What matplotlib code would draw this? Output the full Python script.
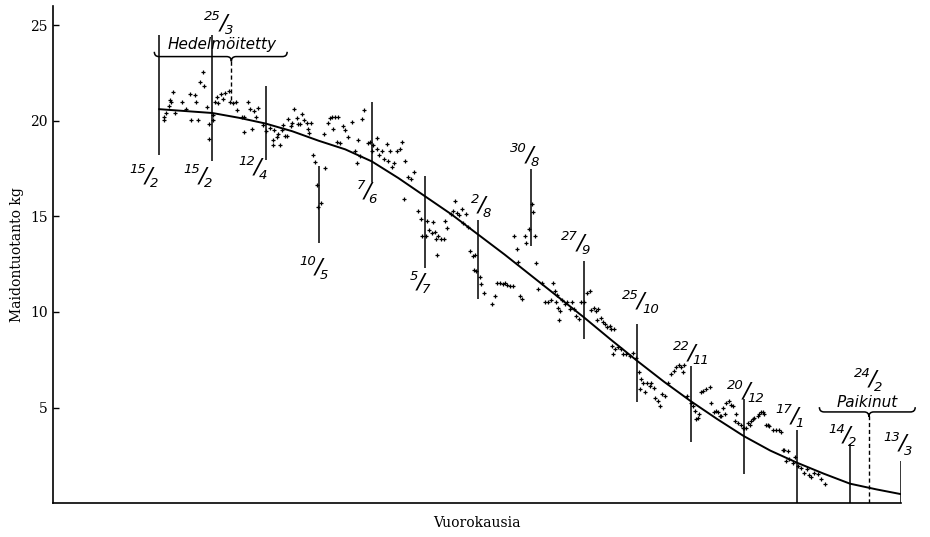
import matplotlib
matplotlib.use("Agg")
import matplotlib.pyplot as plt
from matplotlib.path import Path
from matplotlib.patches import PathPatch

# Päivät laskettu poikimisesta (15/2 = päivä 0), maito kg/vrk
paivat = [2.3, 2.6, 3.7, 4.9, 5.4, 6.1, 7.2, 8.4, 11.9, 14.2, 16.3, 16.8, 18.9, 19.5, 20.4,
          21.6, 22.8, 23.7, 25.1, 26.0, 26.2, 28.1, 28.5, 29.5, 30.4, 31.2, 32.6, 33.8, 34.7,
          36.5, 37.4, 38.8, 40.5, 41.2, 43.5, 44.4, 44.9, 47.0, 47.9, 48.8, 50.0, 51.1, 51.9,
          54.9, 56.3, 58.4, 59.8, 60.2, 60.5, 61.9, 62.8, 63.7, 64.6, 65.4, 66.3, 67.2, 68.1,
          69.5, 69.8, 71.1, 72.5, 73.3, 74.2, 75.4, 76.5, 77.7, 78.6, 78.9, 80.0, 81.2, 82.1,
          83.0, 83.8, 85.1, 87.0, 87.4, 89.1, 90.0, 90.9, 91.7, 92.6, 93.5, 94.1, 95.3, 97.0,
          97.9, 99.3, 101.4, 103.2, 104.0, 104.9, 105.8, 107.0, 108.1, 109.8, 111.0, 111.9,
          112.8, 114.6, 114.9, 115.8, 117.2, 118.6, 119.8, 120.7, 121.6, 122.5, 123.8, 125.1,
          126.8, 127.7, 129.1, 129.5, 131.2, 132.6, 134.4, 136.2, 137.9, 138.6,
          140.5, 140.9, 142.3, 143.5, 144.1, 145.3, 145.8, 146.5, 147.0, 148.3, 150.0, 150.5,
          151.4, 154.0, 154.9, 155.8, 157.0, 158.1, 159.3, 160.2, 161.6, 162.8, 163.7, 165.4,
          165.9, 166.3, 166.8, 168.9, 169.4, 171.1, 175.6, 176.8, 178.1, 179.5, 180.9, 182.1,
          183.3, 184.7, 186.5, 187.0, 188.3, 189.1, 190.0, 191.4, 192.6, 193.5, 194.9, 196.2,
          197.0, 197.9, 198.4, 199.6, 201.9, 203.2, 204.9, 206.2, 207.5, 208.4, 209.3,
          209.8, 210.0, 210.5, 211.0, 212.3, 213.7, 215.1, 216.3, 217.5, 218.6, 219.8, 221.0,
          222.5, 223.8, 225.6, 226.8, 227.7, 229.1, 230.4, 230.8, 231.2, 233.0, 233.8, 235.1,
          236.2, 237.4, 238.3, 238.6, 239.1, 239.6, 240.0, 241.7, 243.2, 244.3, 246.2, 247.9,
          249.6, 251.4, 252.6, 253.2, 253.7, 254.9, 255.8, 257.2, 258.4, 259.3, 260.7, 261.1,
          262.8, 263.7, 264.9, 266.3, 268.1, 269.8, 271.2, 272.5, 273.7, 275.1, 275.9, 276.8,
          278.3, 280.3, 281.2, 282.1, 282.9, 283.9, 284.7, 285.6, 286.5, 288.3, 290.5, 290.9,
          292.6, 293.5, 294.4, 295.3, 296.2, 297.0, 297.9, 298.8, 300.5, 301.4, 302.3, 303.2,
          304.1, 304.9, 306.7, 307.5, 308.4, 309.3, 310.2, 311.1, 312.0, 312.8, 313.7, 315.4,
          316.3, 317.2, 318.1, 318.9, 319.8, 320.7, 321.6, 323.3, 325.1, 326.8, 327.7, 328.6,
          329.5, 330.4, 331.2, 332.1, 333.8, 335.3, 336.5, 338.3, 340.0, 341.2, 342.3, 343.5,
          345.3, 347.0, 348.8, 351.0]
maito = [20.05, 20.2, 20.4, 20.75, 21.1, 20.95, 21.5, 20.4, 20.95, 20.6, 21.4, 20.05, 21.35, 20.95, 20.05,
         22.0, 22.55, 21.8, 20.7, 19.8, 19.05, 20.3, 20.05, 20.95, 21.25, 20.9, 21.4, 21.15, 21.45,
         21.55, 21.0, 20.9, 20.95, 20.55, 20.2, 19.4, 20.2, 20.95, 20.6, 19.55, 20.5, 20.2, 20.65,
         19.75, 19.45, 19.6, 18.75, 19.0, 19.5, 19.15, 19.3, 18.75, 19.5, 19.75, 19.2, 19.2, 20.1,
         19.7, 19.9, 20.6, 20.15, 19.8, 19.8, 20.35, 20.05, 19.9, 19.55, 19.35, 19.9, 18.2, 17.85,
         16.65, 15.5, 15.7, 19.3, 17.5, 19.9, 20.15, 20.2, 19.55, 20.2, 18.9, 20.2, 18.85, 19.7,
         19.5, 19.15, 19.95, 18.4, 17.8, 19.0, 18.15, 20.1, 20.55, 18.85, 18.9, 18.4,
         18.75, 19.1, 18.5, 18.2, 18.4, 18.0, 18.8, 17.9, 18.4, 17.6, 17.8, 18.4,
         18.5, 18.9, 15.9, 17.9, 17.05, 16.95, 17.3, 15.3, 14.85, 13.95,
         13.95, 14.75, 14.3, 14.1, 14.7, 14.2, 13.8, 12.95, 13.95, 13.8, 13.8, 14.75,
         14.4, 15.1, 15.3, 15.8, 15.15, 15.05, 15.4, 14.65, 15.1, 14.45, 13.2, 12.9,
         12.2, 12.95, 12.15, 11.8, 11.45, 11.0, 10.4, 10.85, 11.5, 11.5, 11.45, 11.5,
         11.4, 11.35, 11.35, 13.95, 13.3, 12.6, 10.85, 10.7, 13.95, 13.6, 14.35, 15.65,
         15.2, 13.95, 12.55, 11.2, 11.5, 10.5, 10.5, 10.6, 11.5, 11.1, 10.5,
         10.9, 10.2, 9.6, 10.05, 10.6, 10.4, 10.5, 10.15, 10.5, 10.15, 9.8, 9.65,
         10.5, 10.5, 11.0, 11.1, 10.1, 10.2, 10.05, 9.6, 10.15, 9.7, 9.45, 9.35,
         9.2, 9.25, 9.1, 8.2, 7.8, 9.1, 8.05, 8.15, 8.05, 7.8, 7.8, 7.7,
         7.85, 7.6, 6.85, 5.95, 6.5, 6.3, 5.8, 6.3, 6.15, 6.3, 6.0, 5.5,
         5.35, 5.1, 5.7, 5.6, 6.3, 6.75, 6.9, 7.1, 7.2, 7.1, 6.85, 7.2,
         5.6, 5.25, 5.1, 4.8, 4.4, 4.45, 4.65, 5.8, 5.85, 5.95, 6.1, 5.25,
         4.75, 4.8, 4.75, 4.55, 4.55, 5.0, 4.65, 5.25, 5.35, 5.15, 5.1, 4.3,
         4.65, 4.2, 4.1, 3.95, 3.95, 3.95, 4.2, 4.1, 4.3, 4.4, 4.45, 4.55,
         4.65, 4.75, 4.75, 4.65, 4.1, 4.1, 4.05, 3.85, 3.8, 3.85, 3.7, 2.8,
         2.8, 2.2, 2.75, 2.3, 2.1, 2.4, 1.95, 1.85, 1.6, 1.8, 1.45, 1.35,
         1.6, 1.5, 1.25, 1.0]

# Tasoitettu laktaatiokäyrä
kayra_paivat = [0, 14, 28, 42, 56, 70, 84, 98, 112, 126, 140, 154, 168, 182, 196,
                210, 224, 238, 252, 266, 280, 294, 308, 322, 336, 350, 364, 378, 391]
kayra_kg = [20.6, 20.5, 20.4, 20.15, 19.85, 19.45, 18.95, 18.5, 17.87, 17.0, 16.05, 15.1, 14.05, 13.0, 11.9,
            10.8, 9.7, 8.55, 7.43, 6.35, 5.34, 4.4, 3.51, 2.75, 2.12, 1.55, 1.02, 0.72, 0.47]

# Neljän viikon merkkiviivat
viiva_paiva = [0, 28, 56, 84, 112, 140, 168, 196, 224, 252, 280, 308, 336, 364, 391]
viiva_yla = [24.5, 24.5, 21.8, 17.65, 21.0, 17.1, 14.8, 17.45, 12.65, 9.35, 7.15, 5.45, 3.85, 3.1, 2.2]
viiva_ala = [18.2, 17.9, 17.95, 13.6, 16.8, 12.3, 10.65, 13.45, 8.6, 5.3, 3.2, 1.5, 0.0, 0.0, 0.0]
osoittaja = ["15", "15", "12", "10", "7", "5", "2", "30", "27", "25", "22", "20", "17", "14", "13"]
nimittaja = ["2", "2", "4", "5", "6", "7", "8", "8", "9", "10", "11", "12", "1", "2", "3"]
# tekstien paikat (päivä, kg)
teksti_paikka = [(-5.8, 17.1), (22.6, 17.1), (51.6, 17.55), (83.7, 12.3), (109.5, 16.3),
                 (137.4, 11.55), (169.8, 15.55), (194.9, 18.2), (221.8, 13.6), (253.7, 10.55),
                 (280.4, 7.85), (309.3, 5.85), (334.7, 4.55), (362.3, 3.55), (391.7, 3.1)]

# Hedelmöitys 25/3 ja poikiminen 24/2
hedelmoitys_paiva = 38
poikiminen_paiva = 374

plt.rcParams["font.family"] = ["DejaVu Serif"]


def murtoluku(ax, x, y, yla, ala, koko=9.5):
    # päivämäärä vinoviivamurtolukuna, esim. 15/2
    kw = dict(xycoords="data", textcoords="offset points", style="italic",
              family="DejaVu Sans", annotation_clip=False)
    ax.annotate(yla, (x, y), xytext=(-1.5, 4.5), ha="right", va="center", fontsize=koko, **kw)
    ax.annotate("/", (x, y), xytext=(0, 0), ha="center", va="center", fontsize=koko * 1.7, **kw)
    ax.annotate(ala, (x, y), xytext=(1.0, -5.5), ha="left", va="center", fontsize=koko, **kw)


def sulku(ax, x0, x1, xk, y, h, w):
    verts = [(x0, y + h), (x0, y), (x0 + w, y), (xk - w, y), (xk, y), (xk, y - h),
             (x1, y + h), (x1, y), (x1 - w, y), (xk + w, y), (xk, y), (xk, y - h)]
    codes = [Path.MOVETO, Path.CURVE3, Path.CURVE3, Path.LINETO, Path.CURVE3, Path.CURVE3,
             Path.MOVETO, Path.CURVE3, Path.CURVE3, Path.LINETO, Path.CURVE3, Path.CURVE3]
    ax.add_patch(PathPatch(Path(verts, codes), fill=False, lw=1.1, color="black", clip_on=False))


fig, ax = plt.subplots(figsize=(9.3, 5.37), dpi=100)
fig.subplots_adjust(left=0.057, right=0.969, bottom=0.063, top=0.989)

ax.plot(paivat, maito, linestyle="none", marker="+", markersize=3, markeredgewidth=0.9, color="black")
ax.plot(kayra_paivat, kayra_kg, color="black", linewidth=1.4)

ax.vlines(viiva_paiva, viiva_ala, viiva_yla, color="black", linewidth=1.1)
for (tx, ty), a, b in zip(teksti_paikka, osoittaja, nimittaja):
    murtoluku(ax, tx, ty, a, b)

# hedelmöitys
ax.vlines(hedelmoitys_paiva, 21.1, 23.1, color="black", linewidth=1.0, linestyles=(0, (3, 2)))
sulku(ax, -2.6, 67.4, hedelmoitys_paiva, 23.35, 0.25, 2.5)
ax.text(33.0, 24.0, "Hedelmöitetty", style="italic", family="DejaVu Sans", fontsize=11,
        ha="center", va="center")
murtoluku(ax, 33.7, 25.1, "25", "3")

# poikiminen
ax.vlines(poikiminen_paiva, 0, 4.55, color="black", linewidth=1.0, linestyles=(0, (3, 2)))
sulku(ax, 347.9, 398.4, poikiminen_paiva, 4.77, 0.25, 2.5)
ax.text(373.0, 5.25, "Paikinut", style="italic", family="DejaVu Sans", fontsize=11,
        ha="center", va="center", clip_on=False)
murtoluku(ax, 376.0, 6.45, "24", "2")

ax.set_xlim(-56, 391)
ax.set_ylim(0, 26)
ax.set_yticks([5, 10, 15, 20, 25])
ax.set_xticks([])
ax.tick_params(axis="y", direction="in", length=4, width=1, pad=4, labelsize=10)
for s in ["top", "right"]:
    ax.spines[s].set_visible(False)
ax.spines["left"].set_linewidth(1.2)
ax.spines["bottom"].set_linewidth(1.2)
ax.set_ylabel("Maidontuotanto kg", fontsize=10, labelpad=4)
ax.set_xlabel("Vuorokausia", fontsize=10, labelpad=9)

plt.savefig("out.png", dpi=100)
